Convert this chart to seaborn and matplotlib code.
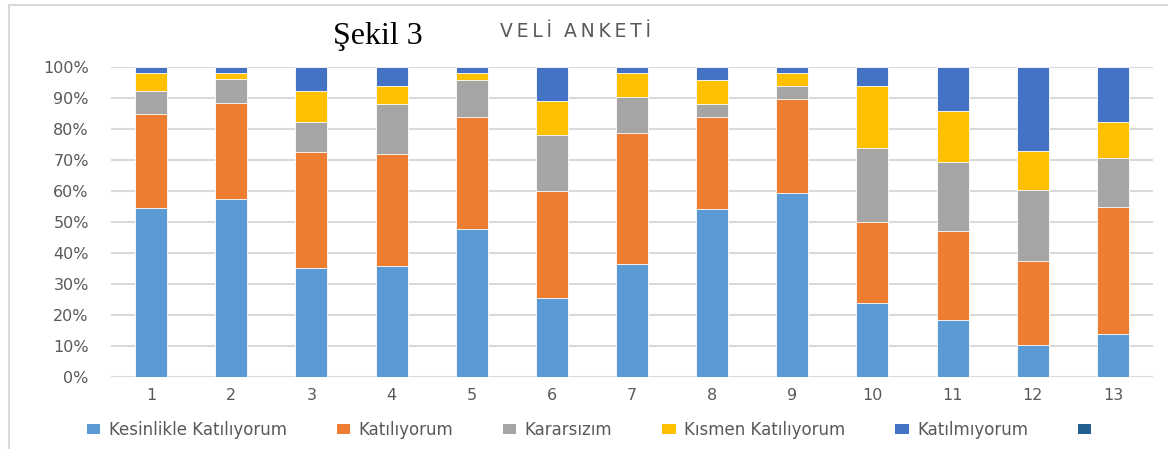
import matplotlib
matplotlib.use("Agg")
import matplotlib.pyplot as plt
from matplotlib.patches import Rectangle, Patch
from matplotlib.ticker import FuncFormatter
import seaborn as sns
import pandas as pd
import numpy as np

categories = ["1", "2", "3", "4", "5", "6", "7", "8", "9", "10", "11", "12", "13"]
kesinlikle = [54.5, 57.5, 35.1, 35.8, 47.8, 25.4, 36.3, 54.1, 59.2, 24.0, 18.3, 10.4, 13.8]
katiliyorum = [30.4, 31.0, 37.4, 36.0, 36.2, 34.5, 42.5, 29.9, 30.6, 26.0, 28.7, 27.0, 41.0]
kararsizim = [7.5, 7.6, 9.9, 16.2, 11.9, 18.2, 11.5, 4.0, 4.1, 24.0, 22.4, 23.0, 15.7]
kismen = [5.7, 2.0, 9.8, 5.9, 2.2, 10.9, 7.8, 7.9, 4.2, 19.9, 16.4, 12.5, 11.9]
katilmiyorum = [1.9, 1.9, 7.8, 6.1, 1.9, 11.0, 1.9, 4.1, 1.9, 6.1, 14.2, 27.1, 17.6]
series6 = [0, 0, 0, 0, 0, 0, 0, 0, 0, 0, 0, 0, 0]

series_names = ["Kesinlikle Katılıyorum", "Katılıyorum", "Kararsızım",
                "Kısmen Katılıyorum", "Katılmıyorum", " "]
series_values = [kesinlikle, katiliyorum, kararsizim, kismen, katilmiyorum, series6]
colors = ["#5B9BD5", "#ED7D31", "#A5A5A5", "#FFC000", "#4472C4", "#255E91"]

W, H = 1168, 449
fig = plt.figure(figsize=(W / 100, H / 100), dpi=100)
ax = fig.add_axes([111 / W, 1 - 377 / H, (1153 - 111) / W, (377 - 67) / H])

# cumulative stacks, drawn from top layer to bottom
cum = np.cumsum(np.array(series_values[:5]), axis=0)
for i in range(4, -1, -1):
    df = pd.DataFrame({"cat": categories, "val": cum[i]})
    sns.barplot(data=df, x="cat", y="val", color=colors[i], width=0.4,
                edgecolor="white", linewidth=0.6, saturation=1, ax=ax, zorder=3)

ax.set_ylim(0, 100)
ax.set_xlim(-0.5, len(categories) - 0.5)
ax.set_yticks(np.arange(0, 101, 10))
ax.yaxis.set_major_formatter(FuncFormatter(lambda v, p: f"{int(v)}%"))
ax.grid(axis="y", color="#D9D9D9", linewidth=1.5, zorder=0)
ax.set_axisbelow(True)
for s in ax.spines.values():
    s.set_visible(False)
ax.tick_params(axis="both", length=0, labelsize=11.5, labelcolor="#595959")
ax.tick_params(axis="y", pad=16)
ax.tick_params(axis="x", pad=8)
ax.set_xlabel("")
ax.set_ylabel("")

# titles
fig.text(333 / W, 1 - 44 / H, "Şekil 3", family="Liberation Serif", fontsize=23,
         color="black", ha="left", va="baseline")
fig.text(500 / W, 1 - 37 / H, "V\u2009E\u2009L\u2009İ  A\u2009N\u2009K\u2009E\u2009T\u2009İ",
         family="DejaVu Sans", fontsize=13.5, color="#595959", ha="left", va="baseline")

# legend
handles = [Patch(facecolor=c, edgecolor="none") for c in colors]
fig.legend(handles, series_names, loc="center", bbox_to_anchor=(596 / W, 1 - 430 / H),
           ncol=6, frameon=False, fontsize=12, labelcolor="#595959",
           handlelength=0.8, handleheight=0.5, handletextpad=0.5, columnspacing=3.0)

# chart frame
fig.add_artist(Rectangle((9 / W, -0.5), 2, (1 - 5 / H) + 0.5, transform=fig.transFigure,
                         fill=False, edgecolor="#D9D9D9", linewidth=1.5))

fig.savefig("out.png", dpi=100, facecolor="white")
